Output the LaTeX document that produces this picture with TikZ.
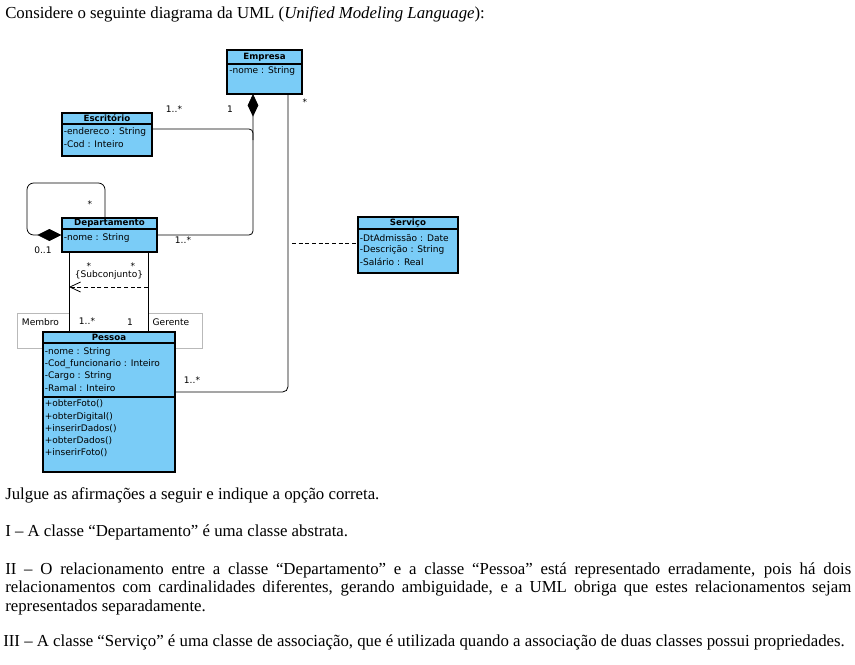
\documentclass[tikz,border=0pt]{standalone}
\usepackage{fontspec}
\setmainfont{Liberation Serif}
\newfontfamily\umlfont{DejaVu Sans}
\usetikzlibrary{arrows.meta,fit}
\definecolor{umlblue}{RGB}{122,204,247}

\tikzset{
    cls/.style={draw=black, line width=0.8pt, fill=umlblue, inner sep=0pt},
    title/.style={font=\umlfont\bfseries\fontsize{6.5}{7}\selectfont, inner sep=0pt},
    attr/.style={font=\umlfont\fontsize{6.8}{7.5}\selectfont, inner sep=0pt, anchor=west},
    mult/.style={font=\umlfont\fontsize{6.8}{7.5}\selectfont, inner sep=0pt},
    divider/.style={line width=0.8pt},
    assoc/.style={line width=0.6pt},
    compo/.style={assoc, -{Diamond[length=17pt,width=8pt]}},
    dashline/.style={assoc, dash pattern=on 3pt off 2pt},
    rolebox/.style={draw=gray!55, line width=0.5pt},
    prose/.style={font=\fontsize{12.6}{14}\selectfont, inner sep=0pt, anchor=base west}
}

\begin{document}
\begin{tikzpicture}[x=0.75pt, y=-0.75pt]
\useasboundingbox (0,0) rectangle (855,664);

% Question text
\node[prose] (intro) at (5,18) {Considere o seguinte diagrama da UML (\textit{Unified Modeling Language}):};

% Role boxes behind Pessoa
\draw[rolebox] (17,313) rectangle (69,348);
\draw[rolebox] (148,313) rectangle (202,348);

% Connector points
\coordinate (empdia) at (253,94);
\coordinate (escjoin) at (253,140);
\coordinate (assocpt) at (292,243);
\coordinate (subR) at (148,287);
\coordinate (subL) at (69,287);

% Classes
\node[cls, fit={(227,50) (302,94)}] (empresa) {};
\node[cls, fit={(62,113) (152,156)}] (escritorio) {};
\node[cls, fit={(62,218) (157,252)}] (departamento) {};
\node[cls, fit={(358,217) (458,273)}] (servico) {};
\node[cls, fit={(43,332) (175,472)}] (pessoa) {};

% Compartments
\draw[divider] (empresa.west |- 0,64) -- (empresa.east |- 0,64);
\draw[divider] (escritorio.west |- 0,124) -- (escritorio.east |- 0,124);
\draw[divider] (departamento.west |- 0,229) -- (departamento.east |- 0,229);
\draw[divider] (servico.west |- 0,229) -- (servico.east |- 0,229);
\draw[divider] (pessoa.west |- 0,343) -- (pessoa.east |- 0,343);
\draw[divider] (pessoa.west |- 0,397) -- (pessoa.east |- 0,397);

% Class texts
\node[title] (empresaT) at (264.5,57) {Empresa};
\node[attr] (empresaA) at (229,71) {-nome : String};

\node[title] (escritorioT) at (107,118.5) {Escritório};
\node[attr] (escritorioA) at (63.5,132) {-endereco : String};
\node[attr] (escritorioB) at (63.5,144) {-Cod : Inteiro};

\node[title] (departamentoT) at (109.5,223.5) {Departamento};
\node[attr] (departamentoA) at (63.5,238) {-nome : String};

\node[title] (servicoT) at (408,223.5) {Serviço};
\node[attr] (servicoA) at (359.5,238) {-DtAdmissão : Date};
\node[attr] (servicoB) at (359.5,250) {-Descrição : String};
\node[attr] (servicoC) at (359.5,262) {-Salário : Real};

\node[title] (pessoaT) at (109,337.5) {Pessoa};
\node[attr] (pessoaA) at (44.5,352) {-nome : String};
\node[attr] (pessoaB) at (44.5,364) {-Cod\_funcionario : Inteiro};
\node[attr] (pessoaC) at (44.5,376) {-Cargo : String};
\node[attr] (pessoaD) at (44.5,388) {-Ramal : Inteiro};
\node[attr] (pessoaE) at (44.5,404) {+obterFoto()};
\node[attr] (pessoaF) at (44.5,416.5) {+obterDigital()};
\node[attr] (pessoaG) at (44.5,428.5) {+inserirDados()};
\node[attr] (pessoaH) at (44.5,441) {+obterDados()};
\node[attr] (pessoaI) at (44.5,453) {+inserirFoto()};

% Composition to Empresa
\draw[compo, rounded corners=3pt] (departamento.east |- 0,235) -| (empdia);
\draw[assoc, rounded corners=3pt] (escritorio.east |- 0,129) -| (escjoin);

% Empresa - Pessoa
\draw[assoc, rounded corners=4pt] (empresa.south -| 288,0) |- (pessoa.east |- 0,392);
\draw[dashline] (assocpt) -- (servico.west |- assocpt);

% Departamento self composition
\draw[assoc, rounded corners=5pt, {Diamond[length=18pt,width=9pt]}-] (departamento.west |- 0,235) -| (27,183) -| (departamento.north -| 105,0);

% Departamento - Pessoa
\draw[assoc] (departamento.south -| 69,0) -- (pessoa.north -| 69,0);
\draw[assoc] (departamento.south -| 148,0) -- (pessoa.north -| 148,0);
\draw[dashline, -{Straight Barb[length=8pt,width=7.5pt]}] (subR) -- (subL);

% Multiplicities and roles
\node[mult] (m1) at (174,109) {1..*};
\node[mult] (m2) at (230,109) {1};
\node[mult] (m3) at (305,102) {*};
\node[mult] (m4) at (90,204) {*};
\node[mult] (m5) at (43,250) {0..1};
\node[mult] (m6) at (183,240) {1..*};
\node[mult] (m7) at (89,266) {*};
\node[mult] (m8) at (133,266) {*};
\node[mult] (subset) at (109,275) {\{Subconjunto\}};
\node[mult] (membro) at (40.5,322) {Membro};
\node[mult] (m9) at (87,321) {1..*};
\node[mult] (m10) at (130,322) {1};
\node[mult] (gerente) at (171,322) {Gerente};
\node[mult] (m11) at (192,380) {1..*};

% Statements
\node[prose] (julgue) at (5,499) {Julgue as afirmações a seguir e indique a opção correta.};
\node[prose] (stmt1) at (5,536) {I – A classe “Departamento” é uma classe abstrata.};
\node[prose] (stmt2a) at (5,574) {\makebox[634.5pt][s]{II – O relacionamento entre a classe “Departamento” e a classe “Pessoa” está representado erradamente, pois há dois}};
\node[prose] (stmt2b) at (5,592.5) {\makebox[634.5pt][s]{relacionamentos com cardinalidades diferentes, gerando ambiguidade, e a UML obriga que estes relacionamentos sejam}};
\node[prose] (stmt2c) at (5,611) {representados separadamente.};
\node[prose] (stmt3) at (3,646) {III – A classe “Serviço” é uma classe de associação, que é utilizada quando a associação de duas classes possui propriedades.};

\end{tikzpicture}
\end{document}
